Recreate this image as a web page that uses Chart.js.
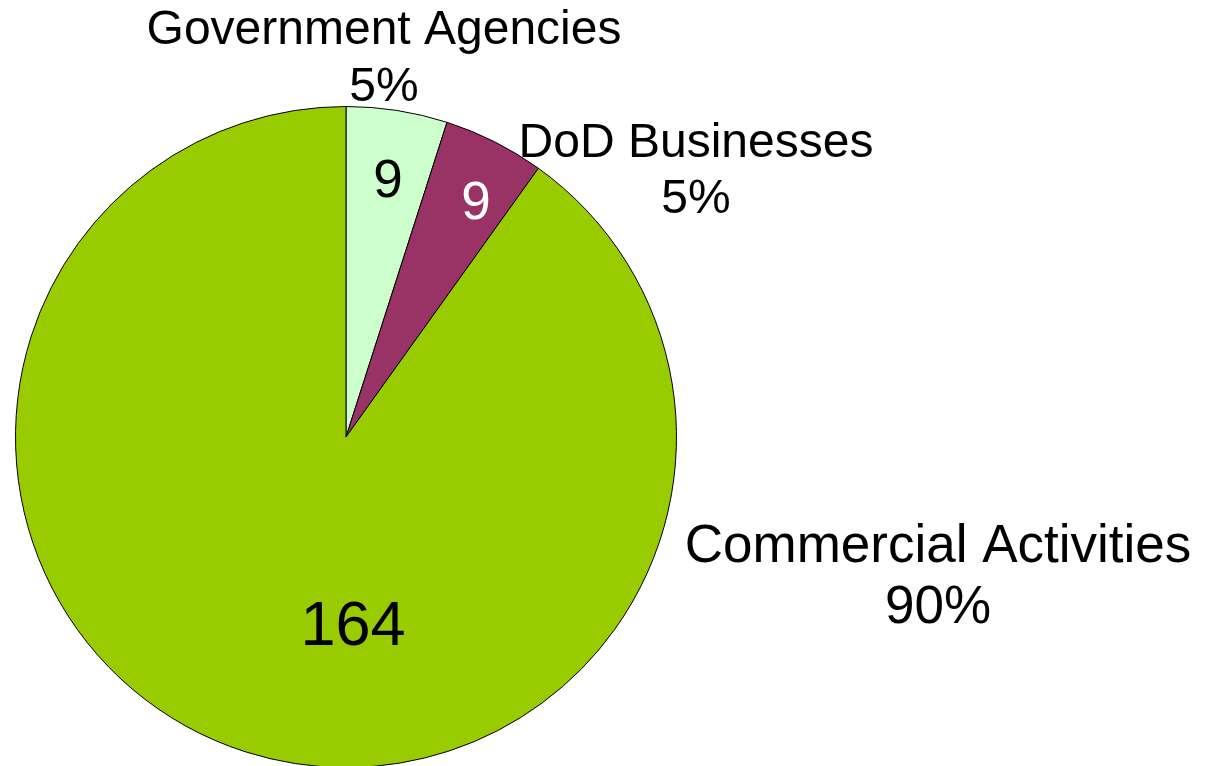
<!DOCTYPE html>
<html>
<head>
<meta charset="utf-8">
<script src="https://cdn.jsdelivr.net/npm/chart.js@4"></script>
<style>
  html, body { margin: 0; padding: 0; background: #fff; overflow: hidden; }
  #wrap { width: 1209px; height: 800px; }
</style>
</head>
<body>
<div id="wrap"><canvas id="pie" width="1209" height="800"></canvas></div>
<script>
const categories = ['Government Agencies', 'DoD Businesses', 'Commercial Activities'];
const counts = [9, 9, 164];
const percentLabels = ['5%', '5%', '90%'];
const sliceColors = ['#CCFFCC', '#993366', '#99CC00'];

// where each slice's text goes, as offsets from the pie centre
const valueSpots = [
    { dx: 42, dy: -240, color: '#000', size: 53 },
    { dx: 130, dy: -218, color: '#fff', size: 53 },
    { dx: 7, dy: 208, color: '#000', size: 63 }
];
const nameSpots = [
    { dx: 38, dy: -393, gap: 57, size: 48 },
    { dx: 350, dy: -280, gap: 56, size: 48 },
    { dx: 592, dy: 125, gap: 61, size: 53 }
];

const pieText = {
    id: 'pieText',
    afterDatasetsDraw(chart) {
        const ctx = chart.ctx;
        const arcs = chart.getDatasetMeta(0).data;
        const cx = arcs[0].x, cy = arcs[0].y;
        ctx.save();
        ctx.textAlign = 'center';
        ctx.textBaseline = 'alphabetic';
        counts.forEach((v, i) => {
            const s = valueSpots[i];
            ctx.font = s.size + 'px "Liberation Sans", Arial, sans-serif';
            ctx.fillStyle = s.color;
            ctx.fillText(String(v), cx + s.dx, cy + s.dy);

            const n = nameSpots[i];
            ctx.font = n.size + 'px "Liberation Sans", Arial, sans-serif';
            ctx.fillStyle = '#000';
            ctx.fillText(categories[i], cx + n.dx, cy + n.dy);
            ctx.fillText(percentLabels[i], cx + n.dx, cy + n.dy + n.gap);
        });
        ctx.restore();
    }
};

document.addEventListener('DOMContentLoaded', () => {
    const ctx = document.getElementById('pie').getContext('2d');
    new Chart(ctx, {
        type: 'pie',
        data: {
            labels: categories,
            datasets: [{
                data: counts,
                backgroundColor: sliceColors,
                borderColor: '#000',
                borderWidth: 1
            }]
        },
        options: {
            responsive: false,
            animation: false,
            layout: { padding: { left: 15, right: 532, top: 106, bottom: 32 } },
            plugins: {
                legend: { display: false },
                tooltip: { enabled: false }
            }
        },
        plugins: [pieText]
    });
});
</script>
</body>
</html>
